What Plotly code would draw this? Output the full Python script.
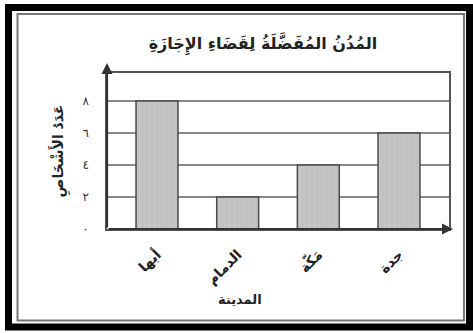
import plotly.graph_objects as go

cities = ["أبها", "الدمام", "مَكّة", "جدة"]
people = [8, 2, 4, 6]
y_ticks = [0, 2, 4, 6, 8]
y_tick_labels = ["٠", "٢", "٤", "٦", "٨"]

font = "DejaVu Sans"

# plot area in pixels: x 107..449, y 73..229
L, R, T, B = 107, 449, 73, 229


def px(x):
    return (x - L) / (R - L)


def py(y):
    return (B - y) / (B - T)


fig = go.Figure()

fig.add_trace(go.Bar(
    x=cities, y=people,
    width=0.52,
    marker=dict(
        color="#c2c2c2",
        line=dict(color="#4a4a4a", width=1.5),
        pattern=dict(shape="|", fgcolor="#d0d0d0", size=5, solidity=0.2),
    ),
    hoverinfo="skip",
    showlegend=False,
))

fig.update_layout(
    width=473, height=333,
    margin=dict(l=L, r=473 - R, t=T, b=333 - B),
    paper_bgcolor="white",
    plot_bgcolor="white",
    font=dict(family=font, color="#222"),
    title=dict(
        text="<b>المُدُنُ المُفَضَّلَةُ لِقَضَاءِ الإِجَازَةِ</b>",
        x=263 / 473, xanchor="center", y=1 - 43 / 333, yanchor="middle",
        font=dict(size=16, color="#222"),
    ),
    xaxis=dict(
        range=[-0.62, 3.62],
        tickvals=cities, ticktext=["<b>%s</b>" % c for c in cities],
        showgrid=False, automargin=False,
        showline=True, linecolor="#555", linewidth=1.5, mirror=True,
        tickangle=-45,
        tickfont=dict(size=14, color="#222"),
        ticklabelstandoff=10,
        zeroline=False,
    ),
    yaxis=dict(
        range=[0, 9.75], automargin=False,
        tickvals=y_ticks, ticktext=y_tick_labels,
        showgrid=True, gridcolor="#888", gridwidth=1.5,
        showline=True, linecolor="#555", linewidth=1.5, mirror=True,
        ticklabelstandoff=14,
        tickfont=dict(size=12, color="#333"),
        title=dict(text="<b>عَدَدُ الأَشْخَاصِ</b>", font=dict(size=14)),
        zeroline=False,
    ),
)

# x axis title
fig.add_annotation(x=px(240), y=py(299), xref="paper", yref="paper",
                   xanchor="center", yanchor="middle",
                   text="<b>المدينة</b>", showarrow=False,
                   font=dict(size=13, color="#222"))

# axis arrows
fig.add_annotation(x=0, y=py(63), xref="paper", yref="paper", ax=0, ay=B - 63,
                   axref="pixel", ayref="pixel", text="", showarrow=True,
                   arrowhead=2, arrowsize=1, arrowwidth=2.2, arrowcolor="#333")
fig.add_annotation(x=px(453), y=0, xref="paper", yref="paper", ax=-(453 - L), ay=0,
                   axref="pixel", ayref="pixel", text="", showarrow=True,
                   arrowhead=2, arrowsize=1, arrowwidth=2.2, arrowcolor="#333")

# frame
fig.add_shape(type="rect", xref="paper", yref="paper",
              x0=px(8.5), x1=px(469.5), y0=py(327), y1=py(7.5),
              line=dict(color="black", width=7), layer="above")
fig.add_shape(type="rect", xref="paper", yref="paper",
              x0=px(17.5), x1=px(464), y0=py(320.5), y1=py(14),
              line=dict(color="#777", width=2), layer="above")

fig.write_html("out.html", config={"displayModeBar": False},
               post_script="document.body.style.margin='0';")
